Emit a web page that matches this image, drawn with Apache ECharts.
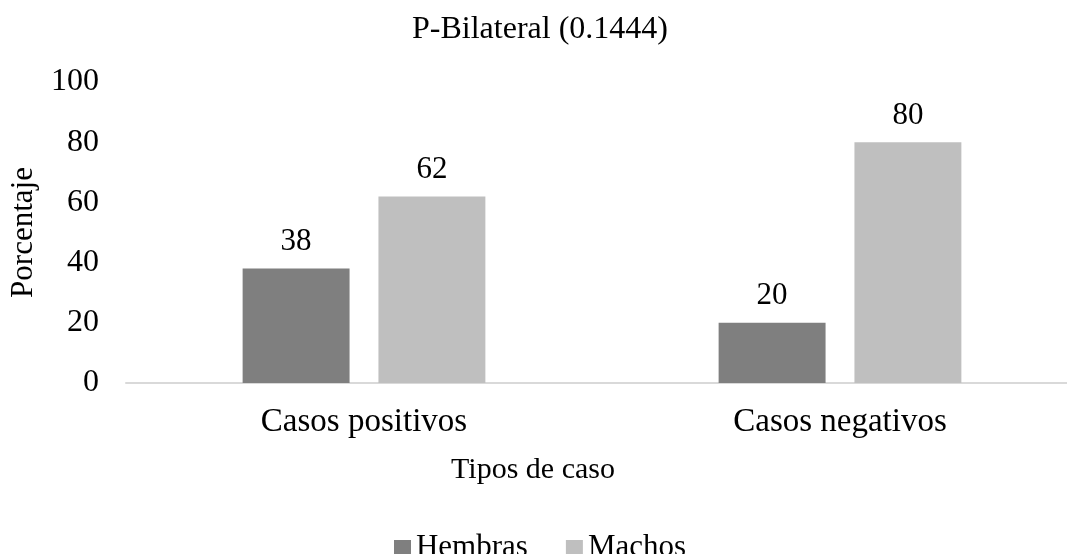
<!DOCTYPE html>
<html>
<head>
<meta charset="utf-8">
<script src="https://cdn.jsdelivr.net/npm/echarts@6/dist/echarts.min.js"></script>
<style>html,body{margin:0;padding:0;background:#fff;overflow:hidden;}#c{width:1080px;height:554px;}</style>
</head>
<body>
<div id="c"></div>
<script>
const categories = ['Casos positivos', 'Casos negativos'];
const hembras = [38, 20];
const machos = [62, 80];
const yTicks = [0, 20, 40, 60, 80, 100];

const FONT = '"Liberation Serif", "Times New Roman", serif';
const chart = echarts.init(document.getElementById('c'), null, {renderer: 'canvas'});
chart.setOption({
  backgroundColor: '#ffffff',
  animation: false,
  title: {
    text: 'P-Bilateral (0.1444)',
    left: 'center',
    top: 14,
    padding: 0,
    textStyle: {fontFamily: FONT, fontSize: 32, fontWeight: 'normal', color: '#000'}
  },
  graphic: [{
    type: 'text',
    x: 533,
    y: 455,
    style: {
      text: 'Tipos de caso',
      textAlign: 'center',
      textVerticalAlign: 'top',
      fontFamily: FONT,
      fontSize: 30,
      fill: '#000'
    }
  }],
  legend: {
    data: ['Hembras', 'Machos'],
    left: 'center',
    top: 527,
    itemWidth: 17,
    itemHeight: 15,
    itemGap: 38,
    icon: 'rect',
    textStyle: {fontFamily: FONT, fontSize: 31, color: '#000'}
  },
  grid: {left: 123, top: 82, right: 2, height: 301, containLabel: false},
  xAxis: {
    type: 'category',
    data: categories,
    axisLine: {lineStyle: {color: '#d9d9d9', width: 2}},
    axisTick: {show: false},
    axisLabel: {fontFamily: FONT, fontSize: 33, color: '#000', margin: 23}
  },
  yAxis: {
    type: 'value',
    min: yTicks[0],
    max: yTicks[yTicks.length - 1],
    interval: 20,
    name: 'Porcentaje',
    nameLocation: 'middle',
    nameGap: 87,
    nameTextStyle: {fontFamily: FONT, fontSize: 31, color: '#000'},
    axisLine: {show: false},
    axisTick: {show: false},
    splitLine: {show: false},
    axisLabel: {fontFamily: FONT, fontSize: 32, color: '#000', margin: 27}
  },
  series: [
    {
      name: 'Hembras', type: 'bar', data: hembras,
      barGap: '27%', barCategoryGap: '49%',
      itemStyle: {color: '#7f7f7f'},
      label: {show: true, position: 'top', distance: 11, fontFamily: FONT, fontSize: 31, color: '#000'}
    },
    {
      name: 'Machos', type: 'bar', data: machos,
      itemStyle: {color: '#bfbfbf'},
      label: {show: true, position: 'top', distance: 11, fontFamily: FONT, fontSize: 31, color: '#000'}
    }
  ]
});
</script>
</body>
</html>
